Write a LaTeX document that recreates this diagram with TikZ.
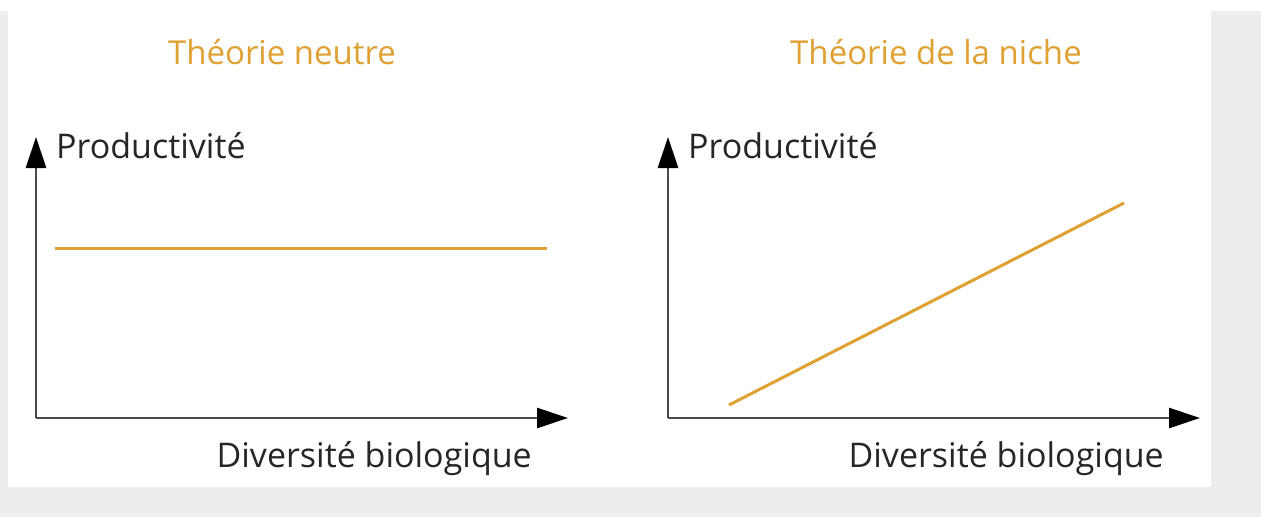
\documentclass[tikz,border=0pt]{standalone}
\usepackage{fontspec}
\setmainfont{Open Sans}
\usetikzlibrary{arrows.meta,calc}
\definecolor{ocre}{HTML}{E0A032}
\definecolor{gristrait}{HTML}{4A4A4A}
\definecolor{fondgris}{HTML}{EDEDED}
\tikzstyle{titre}=[text=ocre, inner sep=0pt, anchor=base,
	font=\fontsize{33}{38}\selectfont]
\tikzstyle{etiquette}=[text=black!85, inner sep=0pt,
	font=\fontsize{34}{40}\selectfont]
\tikzstyle{axe}=[draw, line width=2.8pt, color=gristrait,
	-{Triangle[length=31pt,width=20pt,color=black]}]
\tikzstyle{courbe}=[draw, line width=3pt, color=ocre]
\newcommand{\axes}[2]{%
	% Origin and the two arrow tips of the axes
	\coordinate (o#1) at (#2,418);
	\coordinate (y#1) at (#2,137);
	\coordinate (x#1) at ($(o#1)+(532,0)$);
	\path [axe] (o#1) -- (y#1);
	\path [axe] (o#1) -- (x#1);
	\path (y#1)+(20,21) node (py#1) [etiquette, anchor=base west] {Productivité};
	\path (x#1)+(-36,49) node (px#1) [etiquette, anchor=base east] {Diversité biologique};}

\begin{document}
\begin{tikzpicture}[x=1pt,y=-1pt]
	% Background
	\fill [fondgris] (0,11) rectangle (1261,517);
	\fill [white] (8,0) rectangle (1211,487);
	\fill [white] (0,0) rectangle (1261,11);
	\useasboundingbox (0,0) rectangle (1261,517);

	% Titles
	\path (282,64) node (t1) [titre] {Théorie neutre};
	\path (936,64) node (t2) [titre] {Théorie de la niche};

	% Left graph
	\axes{1}{36}
	\coordinate (a1) at (55,248);
	\coordinate (b1) at (547,248);
	\path [courbe] (a1) -- (b1);

	% Right graph
	\axes{2}{668}
	\coordinate (a2) at (729,405);
	\coordinate (b2) at (1124,203);
	\path [courbe] (a2) -- (b2);

\end{tikzpicture}
\end{document}
